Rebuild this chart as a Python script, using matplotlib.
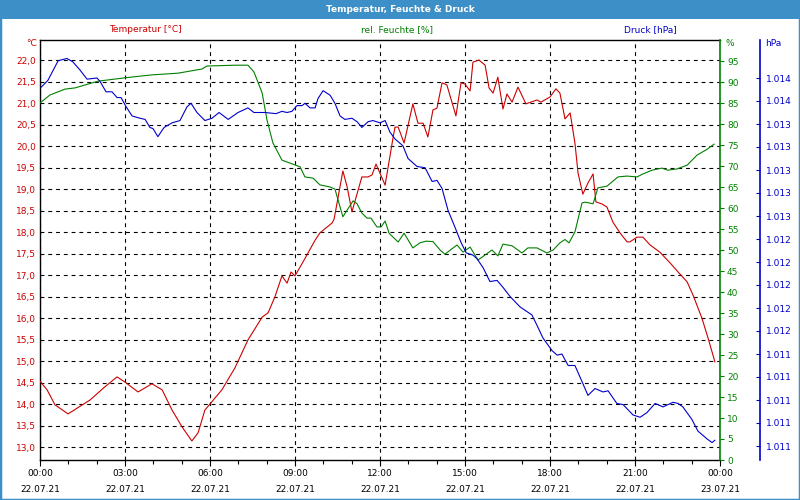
import matplotlib
matplotlib.use("Agg")
import matplotlib.pyplot as plt
from matplotlib.patches import Rectangle
from matplotlib.ticker import FixedLocator, MultipleLocator

# ---------------- data ----------------
temp_hours = [0.0, 0.25, 0.53, 0.99, 1.76, 2.29, 2.72, 3.0, 3.46, 3.95, 4.31, 4.66, 5.01, 5.36,
              5.58, 5.82, 6.0, 6.42, 6.88, 7.34, 7.84, 8.05, 8.29, 8.54, 8.72, 8.86, 9.0, 9.28,
              9.71, 9.88, 10.31, 10.38, 10.69, 10.84, 11.01, 11.36, 11.58, 11.72, 11.86, 12.18,
              12.46, 12.53, 12.64, 12.85, 13.16, 13.34, 13.52, 13.69, 13.87, 14.01, 14.19, 14.36,
              14.68, 14.86, 15.0, 15.18, 15.28, 15.49, 15.71, 15.85, 15.99, 16.16, 16.34, 16.48,
              16.66, 16.87, 17.15, 17.54, 17.68, 18.0, 18.21, 18.35, 18.53, 18.71, 18.88, 18.99,
              19.16, 19.34, 19.52, 19.62, 19.84, 20.01, 20.22, 20.47, 20.72, 20.82, 21.07, 21.28,
              21.53, 21.88, 22.24, 22.52, 22.84, 23.05, 23.36, 23.58, 23.82]
temp_values = [14.53, 14.33, 13.98, 13.77, 14.09, 14.40, 14.63, 14.51, 14.28, 14.47, 14.33, 13.86,
               13.47, 13.14, 13.33, 13.86, 14.0, 14.33, 14.84, 15.49, 16.02, 16.12, 16.49, 16.98,
               16.81, 17.07, 16.98, 17.30, 17.81, 17.98, 18.21, 18.30, 19.42, 19.05, 18.47, 19.28,
               19.28, 19.33, 19.58, 19.09, 20.19, 20.44, 20.44, 20.07, 20.98, 20.53, 20.53, 20.21,
               20.84, 20.88, 21.47, 21.42, 20.70, 21.47, 21.44, 21.28, 21.95, 22.0, 21.88, 21.35,
               21.23, 21.60, 20.86, 21.21, 21.02, 21.37, 20.98, 21.07, 21.02, 21.14, 21.33, 21.23,
               20.63, 20.77, 20.07, 19.37, 18.88, 19.14, 19.35, 18.70, 18.65, 18.58, 18.23, 17.98,
               17.77, 17.77, 17.88, 17.88, 17.70, 17.53, 17.28, 17.07, 16.84, 16.53, 16.0, 15.53,
               14.98]

hum_hours = [0.0, 0.35, 0.88, 1.24, 2.05, 3.0, 3.95, 4.87, 5.72, 5.89, 6.88, 7.34, 7.55, 7.69,
             7.84, 8.01, 8.22, 8.54, 8.82, 9.18, 9.35, 9.64, 9.88, 10.24, 10.41, 10.52, 10.69,
             10.84, 11.05, 11.19, 11.36, 11.54, 11.68, 11.89, 12.04, 12.18, 12.32, 12.64, 12.85,
             13.16, 13.41, 13.62, 13.87, 14.12, 14.29, 14.72, 14.93, 15.18, 15.46, 15.95, 16.16,
             16.34, 16.66, 17.01, 17.22, 17.54, 17.89, 18.11, 18.35, 18.53, 18.67, 18.88, 19.13,
             19.24, 19.52, 19.69, 20.01, 20.40, 20.72, 21.07, 21.28, 21.60, 21.95, 22.16, 22.48,
             22.84, 23.19, 23.55, 23.79]
hum_values = [85.0, 86.9, 88.3, 88.6, 90.2, 91.0, 91.7, 92.1, 93.1, 93.8, 94.0, 94.0, 92.4, 90.0,
              87.4, 81.0, 75.5, 71.4, 70.7, 69.8, 67.4, 67.1, 65.5, 65.0, 64.5, 61.9, 57.9,
              59.5, 61.7, 61.0, 58.8, 57.6, 57.6, 55.5, 55.5, 56.9, 54.0, 51.9, 54.0,
              50.5, 51.7, 52.1, 52.0, 50.0, 49.0, 51.2, 49.5, 50.7, 47.6, 50.0, 48.6,
              51.4, 51.0, 49.3, 50.5, 50.5, 49.3, 50.0, 51.7, 52.5, 51.7, 54.3, 61.2,
              61.4, 61.0, 64.8, 65.2, 67.4, 67.6, 67.4, 68.1, 69.0, 69.5, 69.0, 69.3,
              70.2, 72.6, 74.0, 75.2]

pres_hours = [0.04, 0.28, 0.64, 0.95, 1.16, 1.41, 1.66, 2.01, 2.12, 2.33, 2.54, 2.72, 2.86, 3.04,
              3.25, 3.53, 3.71, 3.88, 3.99, 4.16, 4.38, 4.66, 4.94, 5.19, 5.33, 5.54, 5.82, 6.07,
              6.32, 6.64, 6.99, 7.34, 7.55, 7.94, 8.33, 8.54, 8.72, 8.89, 9.07, 9.25, 9.35, 9.53,
              9.71, 9.81, 9.99, 10.24, 10.41, 10.59, 10.76, 11.01, 11.19, 11.36, 11.58, 11.75,
              12.0, 12.18, 12.35, 12.53, 12.81, 12.99, 13.31, 13.59, 13.84, 14.01, 14.19, 14.40,
              14.65, 14.86, 15.04, 15.28, 15.42, 15.64, 15.88, 16.13, 16.34, 16.59, 16.94, 17.36,
              17.54, 17.75, 18.07, 18.25, 18.42, 18.64, 18.88, 19.13, 19.34, 19.59, 19.87, 20.05,
              20.36, 20.58, 20.93, 21.18, 21.42, 21.71, 21.99, 22.34, 22.52, 22.69, 23.01, 23.22,
              23.55, 23.72, 23.82]
pres_values = [1013.72, 1013.78, 1013.95, 1013.97, 1013.94, 1013.87, 1013.79, 1013.80, 1013.77,
               1013.68, 1013.68, 1013.63, 1013.63, 1013.55, 1013.47, 1013.45, 1013.44, 1013.37,
               1013.36, 1013.29, 1013.37, 1013.41, 1013.43, 1013.55, 1013.58, 1013.50, 1013.43,
               1013.45, 1013.50, 1013.44, 1013.50, 1013.54, 1013.50, 1013.50, 1013.49, 1013.51,
               1013.50, 1013.51, 1013.56, 1013.56, 1013.58, 1013.54, 1013.54, 1013.62, 1013.69,
               1013.65, 1013.58, 1013.47, 1013.44, 1013.45, 1013.42, 1013.37, 1013.42, 1013.43,
               1013.41, 1013.43, 1013.33, 1013.27, 1013.21, 1013.10, 1013.03, 1013.02, 1012.90,
               1012.91, 1012.84, 1012.65, 1012.50, 1012.37, 1012.28, 1012.26, 1012.23, 1012.15,
               1012.03, 1012.04, 1011.98, 1011.90, 1011.81, 1011.74, 1011.65, 1011.54, 1011.43,
               1011.39, 1011.40, 1011.30, 1011.30, 1011.16, 1011.04, 1011.10, 1011.07, 1011.08,
               1010.97, 1010.96, 1010.87, 1010.85, 1010.89, 1010.97, 1010.94, 1010.98, 1010.97,
               1010.94, 1010.83, 1010.73, 1010.66, 1010.63, 1010.65]

x_tick_hours = [0, 3, 6, 9, 12, 15, 18, 21, 24]
x_tick_labels = ["00:00\n22.07.21", "03:00\n22.07.21", "06:00\n22.07.21", "09:00\n22.07.21",
                 "12:00\n22.07.21", "15:00\n22.07.21", "18:00\n22.07.21", "21:00\n22.07.21",
                 "00:00\n23.07.21"]
temp_ticks = [13.0 + 0.5 * i for i in range(19)]
hum_ticks = list(range(0, 100, 5))
pres_ticks = [1010.6 + 0.2 * i for i in range(17)]

title = "Temperatur, Feuchte & Druck"
temp_label = "Temperatur [°C]"
hum_label = "rel. Feuchte [%]"
pres_label = "Druck [hPa]"

# ---------------- style ----------------
RED = "#cc0000"
GREEN = "#008000"
BLUE = "#0000cc"
BAR = "#3d8fc8"
FS = 6.5
LW = 0.8
plt.rcParams["font.family"] = ["DejaVu Sans"]

W, H = 800, 500
fig = plt.figure(figsize=(8, 5), dpi=100)
fig.patch.set_facecolor("white")

# title bar and border
fig.patches.append(Rectangle((0, 1 - 19 / H), 1, 19 / H, transform=fig.transFigure,
                             facecolor=BAR, edgecolor="none", zorder=0))
fig.patches.append(Rectangle((0, 0), 1, 1, transform=fig.transFigure,
                             facecolor="none", edgecolor=BAR, lw=2.5, zorder=10))
fig.text(0.5, 1 - 9.5 / H, title, color="white", fontsize=6.5, fontweight="bold",
         ha="center", va="center")

left, right, top, bottom = 40, 720, 40, 460
ax = fig.add_axes([left / W, 1 - bottom / H, (right - left) / W, (bottom - top) / H])
ax.set_facecolor("white")

# temperature axis
ax.plot(temp_hours, temp_values, color=RED, lw=LW, zorder=5)
ax.set_xlim(0, 24)
ax.set_ylim(13.0 - 13 / 43, 22.0 + 20 / 43)
ax.yaxis.set_major_locator(FixedLocator(temp_ticks))
ax.set_yticklabels([f"{v:.1f}".replace(".", ",") for v in temp_ticks])
ax.tick_params(axis="y", length=0, pad=3, labelcolor=RED, labelsize=FS)
ax.xaxis.set_major_locator(FixedLocator(x_tick_hours))
ax.set_xticklabels(x_tick_labels, linespacing=2.0)
ax.xaxis.set_minor_locator(MultipleLocator(1))
ax.tick_params(axis="x", which="major", length=4, pad=2.5, labelsize=FS, color="black",
               width=LW)
ax.tick_params(axis="x", which="minor", length=3, color="black", width=LW)
ax.grid(True, which="major", color="black", linestyle=(0, (3.5, 3.5)), lw=LW)
for s in ["left", "bottom", "top"]:
    ax.spines[s].set_color("black")
    ax.spines[s].set_linewidth(1)
ax.spines["right"].set_visible(False)

# humidity axis
axh = ax.twinx()
axh.plot(hum_hours, hum_values, color=GREEN, lw=LW, zorder=4)
axh.set_ylim(0, 100)
axh.yaxis.set_major_locator(FixedLocator(hum_ticks))
axh.tick_params(axis="y", length=3, pad=2, color=GREEN, labelcolor=GREEN, labelsize=FS,
                width=LW)
axh.spines["right"].set_color(GREEN)
axh.spines["right"].set_linewidth(1.2)
for s in ["left", "top", "bottom"]:
    axh.spines[s].set_visible(False)

# pressure axis
axp = ax.twinx()
axp.plot(pres_hours, pres_values, color=BLUE, lw=LW, zorder=4)
axp.set_ylim(1010.6 - 14 / 115, 1010.6 + 406 / 115)
axp.spines["right"].set_position(("axes", (760 - left) / (right - left)))
axp.spines["right"].set_color(BLUE)
axp.spines["right"].set_linewidth(1.2)
for s in ["left", "top", "bottom"]:
    axp.spines[s].set_visible(False)
axp.yaxis.set_major_locator(FixedLocator(pres_ticks))
axp.set_yticklabels([f"{int(round(v)):,}".replace(",", ".") for v in pres_ticks])
axp.tick_params(axis="y", direction="in", length=3, pad=4, color=BLUE,
                labelcolor=BLUE, labelsize=FS, width=LW)

# header labels
fig.text(145 / W, 1 - 30 / H, temp_label, color=RED, fontsize=FS, ha="center", va="center")
fig.text(397 / W, 1 - 30 / H, hum_label, color=GREEN, fontsize=FS, ha="center", va="center")
fig.text(650 / W, 1 - 30 / H, pres_label, color=BLUE, fontsize=FS, ha="center", va="center")
fig.text(37 / W, 1 - 44 / H, "°C", color=RED, fontsize=FS, ha="right", va="center")
fig.text(725 / W, 1 - 44 / H, "%", color=GREEN, fontsize=FS, ha="left", va="center")
fig.text(765 / W, 1 - 44 / H, "hPa", color=BLUE, fontsize=FS, ha="left", va="center")

fig.savefig("out.png", dpi=100)
